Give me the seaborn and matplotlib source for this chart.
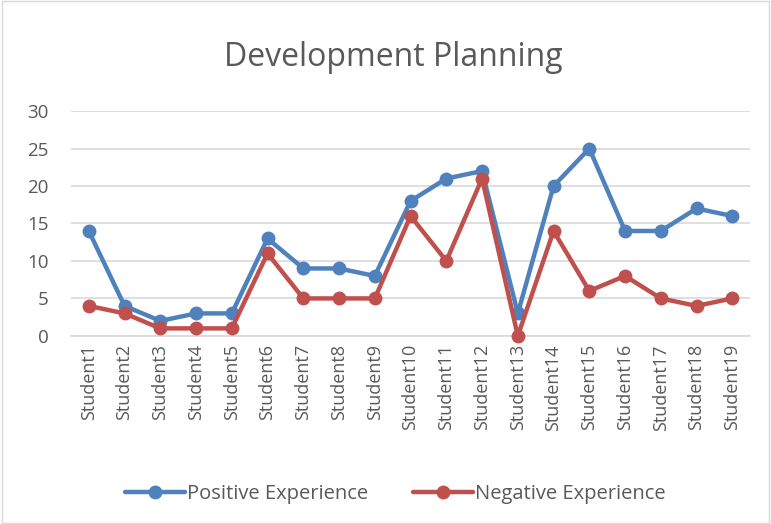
import pandas as pd
import seaborn as sns
import matplotlib.pyplot as plt
from matplotlib.patches import Rectangle

# data
students = ["Student" + str(i) for i in range(1, 20)]
positive = [14, 4, 2, 3, 3, 13, 9, 9, 8, 18, 21, 22, 3, 20, 25, 14, 14, 17, 16]
negative = [4, 3, 1, 1, 1, 11, 5, 5, 5, 16, 10, 21, 0, 14, 6, 8, 5, 4, 5]

df = pd.DataFrame({
    "Student": students * 2,
    "Score": positive + negative,
    "Series": ["Positive Experience"] * len(students) + ["Negative Experience"] * len(students),
})

sns.set_style("white")
plt.rcParams["font.family"] = ["Open Sans", "DejaVu Sans"]

fig = plt.figure(figsize=(7.71, 5.24), dpi=100)
ax = fig.add_axes([0.092, 0.359, 0.881, 0.429])

palette = {"Positive Experience": "#4F81BD", "Negative Experience": "#C0504D"}
sns.lineplot(data=df, x="Student", y="Score", hue="Series", palette=palette,
             marker="o", markersize=10, markeredgewidth=0, linewidth=3.2,
             sort=False, ax=ax, clip_on=False, zorder=3)

ax.set_ylim(0, 30)
ax.set_yticks(range(0, 31, 5))
ax.set_xlim(-0.5, len(students) - 0.5)
ax.grid(axis="y", color="#D9D9D9", linewidth=1.2)
ax.set_axisbelow(True)
for s in ["top", "right", "left"]:
    ax.spines[s].set_visible(False)
ax.spines["bottom"].set_color("#D9D9D9")
ax.spines["bottom"].set_linewidth(1.2)
ax.tick_params(axis="both", length=0, labelsize=13, colors="#595959", pad=6)
ax.tick_params(axis="y", pad=16, labelsize=13.5)
plt.setp(ax.get_xticklabels(), rotation=90)
ax.set_xlabel("")
ax.set_ylabel("")

fig.text(0.51, 0.89, "Development Planning", ha="center", va="center",
         fontsize=23, color="#595959")

handles, labels = ax.get_legend_handles_labels()
ax.legend(handles, labels, loc="center", bbox_to_anchor=(0.513, 0.058),
          bbox_transform=fig.transFigure, ncol=2, frameon=False,
          fontsize=14.5, labelcolor="#595959", handlelength=3.0,
          handletextpad=0.1, columnspacing=2.2)

fig.patches.append(Rectangle((0.002, 0.002), 0.996, 0.996, transform=fig.transFigure,
                             fill=False, edgecolor="#D9D9D9", linewidth=1))

fig.savefig("out.png", dpi=100)
